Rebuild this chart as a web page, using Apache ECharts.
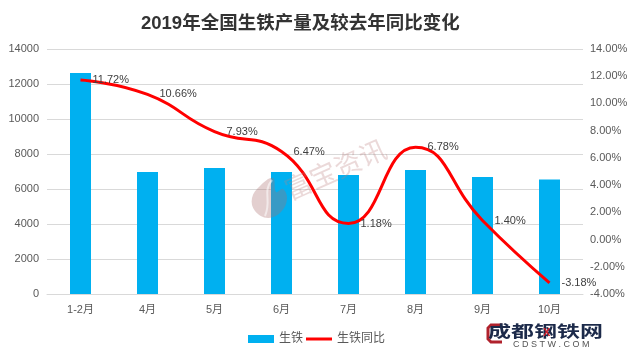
<!DOCTYPE html>
<html>
<head>
<meta charset="utf-8">
<style>
  html, body { margin: 0; padding: 0; background: #fff; }
  #chart { width: 636px; height: 356px; }
</style>
<script src="https://cdn.jsdelivr.net/npm/echarts@6/dist/echarts.min.js"></script>
</head>
<body>
<div id="chart"></div>
<script>
const months = ["1-2月", "4月", "5月", "6月", "7月", "8月", "9月", "10月"];
const output = [12630, 6970, 7200, 6970, 6800, 7085, 6690, 6550];
const yoy = [11.72, 10.66, 7.93, 6.47, 1.18, 6.78, 1.4, -3.18];

const font = "'Liberation Sans', 'Noto Sans CJK SC', sans-serif";
const textColor = "#595959";

const chart = echarts.init(document.getElementById("chart"), null, { renderer: "canvas" });

chart.setOption({
  animation: false,
  backgroundColor: "#fff",
  textStyle: { fontFamily: font },
  title: {
    text: "2019年全国生铁产量及较去年同比变化",
    left: 136,
    top: 10,
    textStyle: { fontSize: 18.5, fontWeight: "bold", color: "#333", fontFamily: font },
  },
  legend: {
    data: [
      { name: "生铁", icon: "rect" },
      { name: "生铁同比", icon: "path://M0,0H26V3H0Z" },
    ],
    left: 243,
    top: 328,
    itemWidth: 26,
    itemHeight: 8,
    itemGap: 3,
    textStyle: { fontSize: 12, color: textColor },
  },
  grid: { left: 47, right: 53, top: 49, bottom: 62 },
  xAxis: {
    type: "category",
    data: months,
    axisTick: { show: false },
    axisLine: { lineStyle: { color: "#d9d9d9" } },
    axisLabel: { color: textColor, fontSize: 11, margin: 10 },
  },
  yAxis: [
    {
      type: "value",
      min: 0,
      max: 14000,
      interval: 2000,
      axisLine: { show: false },
      axisTick: { show: false },
      axisLabel: { color: textColor, fontSize: 11, margin: 8, formatter: (v) => String(v) },
      splitLine: { lineStyle: { color: "#d9d9d9" } },
    },
    {
      type: "value",
      min: -4,
      max: 14,
      interval: 2,
      axisLine: { show: false },
      axisTick: { show: false },
      axisLabel: {
        color: textColor,
        fontSize: 11,
        margin: 7,
        formatter: (v) => v.toFixed(2) + "%",
      },
      splitLine: { show: false },
    },
  ],
  series: [
    {
      name: "生铁",
      type: "bar",
      data: output,
      barWidth: 21,
      itemStyle: { color: "#00b0f0" },
    },
    {
      name: "生铁同比",
      type: "line",
      yAxisIndex: 1,
      data: yoy,
      smooth: 0.5,
      symbol: "circle",
      symbolSize: 0,
      showAllSymbol: true,
      lineStyle: { color: "#ff0000", width: 3 },
      itemStyle: { color: "#ff0000" },
      label: {
        show: true,
        position: "right",
        distance: 12,
        fontSize: 11,
        color: "#404040",
        formatter: (p) => p.value.toFixed(2) + "%",
      },
      z: 5,
    },
  ],
  graphic: [
    // 水印
    {
      type: "polygon",
      shape: {
        points: [[273, 178], [260, 186], [252, 198], [255, 211], [268, 218], [281, 212], [287, 199], [283, 189], [276, 192]],
        smooth: 0.4,
      },
      style: { fill: "rgba(170,110,110,0.33)" },
      z: 10,
    },
    {
      type: "bezierCurve",
      shape: { x1: 272, y1: 180, cpx1: 262, cpy1: 192, cpx2: 272, cpy2: 200, x2: 265, y2: 216 },
      style: { stroke: "rgba(255,255,255,0.55)", lineWidth: 2, fill: "none" },
      z: 11,
    },
    {
      type: "text",
      x: 286,
      y: 191,
      rotation: (24 * Math.PI) / 180,
      style: {
        text: "富宝资讯",
        font: "27px 'Noto Sans CJK SC'",
        fill: "rgba(190,130,130,0.3)",
        textVerticalAlign: "middle",
      },
      z: 10,
    },
    // 右下角 logo
    {
      type: "polyline",
      shape: { points: [[502, 325], [491, 325], [488, 328], [488, 339], [491, 342], [502, 342]] },
      style: { stroke: "#b0212c", lineWidth: 3, fill: "none" },
      z: 10,
    },
    {
      type: "text",
      x: 488,
      y: 323,
      scaleY: 0.7,
      style: {
        text: "成都钢铁网",
        font: "bold 23px 'Noto Sans CJK SC'",
        fill: "#1c2a4a",
      },
      z: 11,
    },
    {
      type: "text",
      x: 543,
      y: 327,
      style: { text: "X", font: "bold 11px 'Liberation Sans'", fill: "#d01f2a" },
      z: 12,
    },
    {
      type: "text",
      x: 513,
      y: 340,
      style: {
        text: "C D S T W . C O M",
        font: "9px 'Liberation Sans'",
        fill: "#555",
      },
      z: 10,
    },
  ],
});
</script>
</body>
</html>
